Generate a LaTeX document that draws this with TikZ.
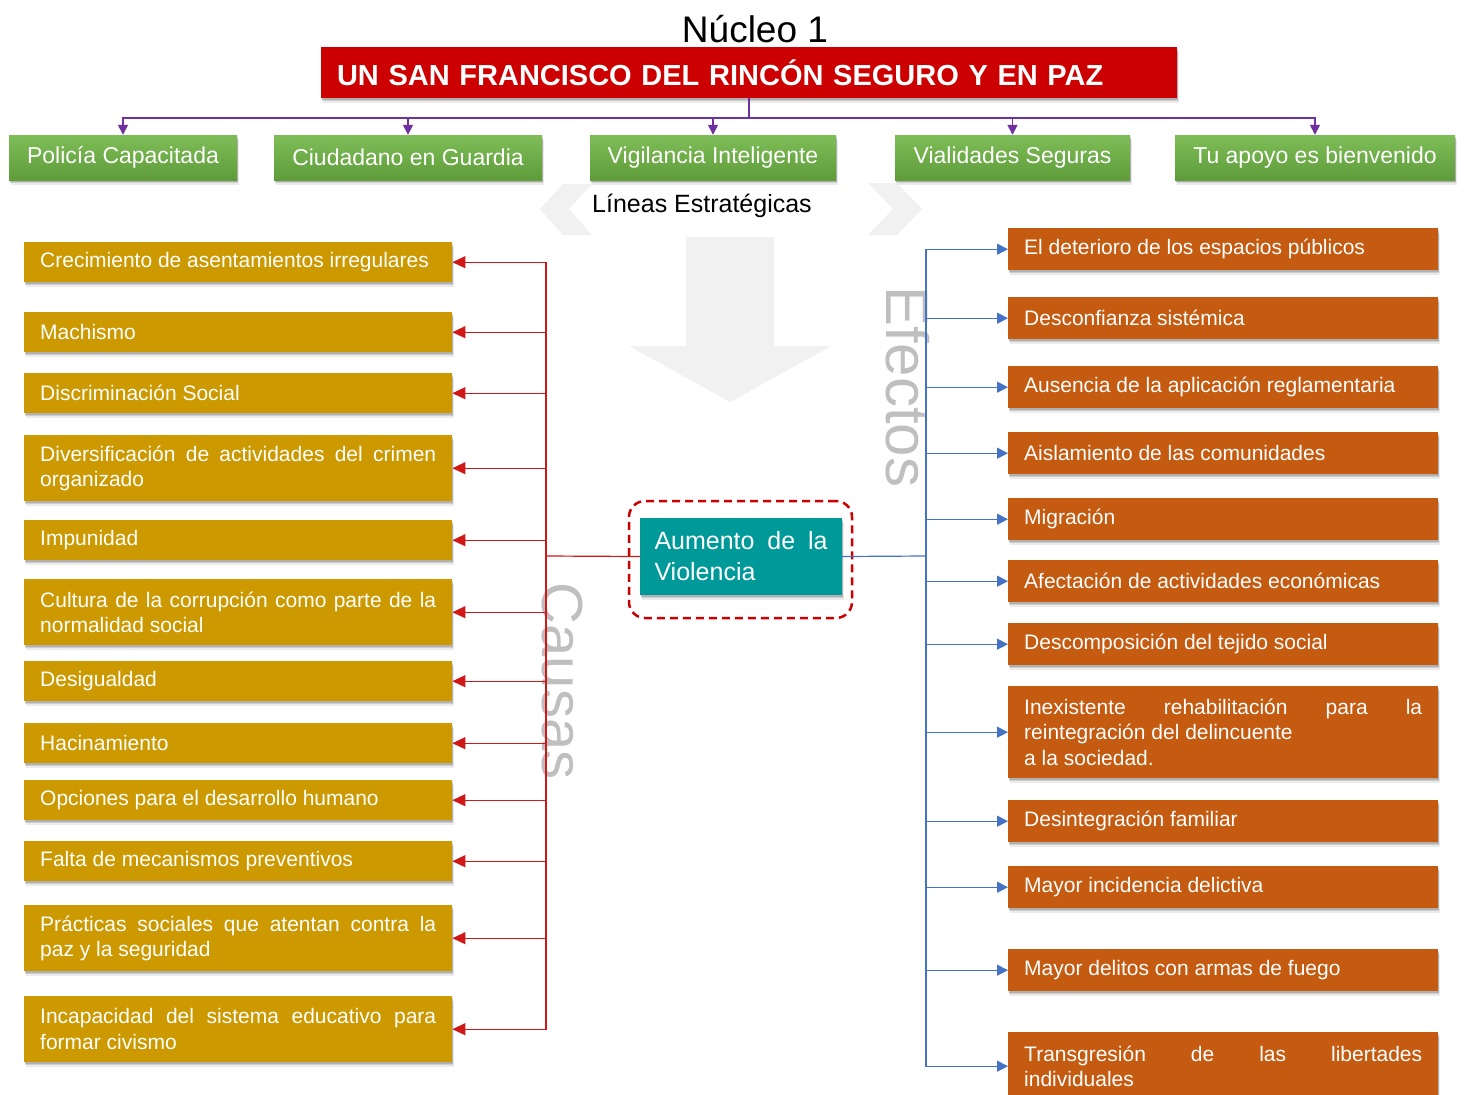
\documentclass[tikz,border=0pt]{standalone}
\usepackage{fontspec}
\setmainfont{Liberation Sans}
\usetikzlibrary{shadows,arrows.meta}
\definecolor{gold}{HTML}{CC9900}
\definecolor{rust}{HTML}{C55A11}
\definecolor{tealbox}{HTML}{009999}
\definecolor{titlered}{HTML}{CC0000}
\definecolor{purp}{HTML}{7030A0}
\definecolor{linered}{HTML}{D01818}
\definecolor{lineblue}{HTML}{4472C4}
\definecolor{greentop}{HTML}{7EBD57}
\definecolor{greenbot}{HTML}{5E9C3A}
\definecolor{faint}{HTML}{F1F1F1}
\definecolor{bigtext}{HTML}{BFBFBF}
\hyphenpenalty=10000
\exhyphenpenalty=10000
\begin{document}
\begin{tikzpicture}[x=1pt,y=-1pt,
  boxshadow/.style={
    drop shadow={shadow xshift=0.5pt,shadow yshift=-1.5pt,opacity=0.14,fill=black},
    drop shadow={shadow xshift=1pt,shadow yshift=-3pt,opacity=0.12,fill=black},
    drop shadow={shadow xshift=1.5pt,shadow yshift=-5pt,opacity=0.08,fill=black}},
  causebox/.style={fill=gold,text=white,anchor=north west,minimum width=428pt,text width=396pt,inner xsep=16pt,inner ysep=0pt,align=justify,font=\fontsize{21}{25.5}\selectfont,boxshadow},
  effectbox/.style={fill=rust,text=white,anchor=north west,minimum width=430pt,text width=398pt,inner xsep=16pt,inner ysep=0pt,align=justify,font=\fontsize{21}{25.5}\selectfont,boxshadow},
  greenbox/.style={top color=greentop,bottom color=greenbot,text=white,minimum height=45pt,inner xsep=0pt,inner ysep=0pt,font=\fontsize{23}{27}\selectfont,boxshadow},
  purparrow/.style={draw=purp,line width=1.5pt,-{Triangle[width=10pt,length=10pt]}},
  redarrow/.style={draw=linered,line width=1.2pt,-{Triangle[width=12pt,length=13pt]}},
  bluearrow/.style={draw=lineblue,line width=1.2pt,-{Triangle[width=11pt,length=11pt]}},
]
\useasboundingbox (0,0) rectangle (1465,1095);
\fill[white] (0,0) rectangle (1465,1095);

% faint background chevrons and arrow
\fill[faint] (540,209) -- (563,184) -- (592,184) -- (569,209) -- (592,235) -- (563,235) -- cycle;
\fill[faint] (868,183) -- (897,183) -- (922,209) -- (897,235) -- (868,235) -- (893,209) -- cycle;
\fill[faint] (686,237) -- (774,237) -- (774,346) -- (831,346) -- (730,402) -- (629,346) -- (686,346) -- cycle;

% big gray labels
\node[text=bigtext,font=\fontsize{60}{60}\selectfont,rotate=-90,inner sep=0pt] (efectos) at (908,387) {Efectos};
\node[text=bigtext,font=\fontsize{58}{58}\selectfont,rotate=-90,inner sep=0pt] (causas) at (562,681) {Causas};

% title
\node[font=\fontsize{37}{40}\selectfont,inner sep=0pt] (nucleo) at (755,29) {Núcleo 1};
\node[fill=titlered,text=white,minimum width=856pt,minimum height=51pt,text width=824pt,inner xsep=16pt,inner ysep=0pt,align=left,font=\bfseries\fontsize{29}{32}\selectfont,boxshadow] (title) at (749,72.5) {UN SAN FRANCISCO DEL RINCÓN SEGURO Y EN PAZ};

% strategic lines
\node[greenbox,minimum width=228pt] (g1) at (123,157.5) {Policía Capacitada};
\node[greenbox,minimum width=268pt] (g2) at (408,157.5) {Ciudadano en Guardia};
\node[greenbox,minimum width=246pt] (g3) at (713,157.5) {Vigilancia Inteligente};
\node[greenbox,minimum width=235pt] (g4) at (1012.5,157.5) {Vialidades Seguras};
\node[greenbox,minimum width=280pt] (g5) at (1315,157.5) {Tu apoyo es bienvenido};
\node[font=\fontsize{25}{28}\selectfont,inner sep=0pt] (lineas) at (702,206) {Líneas Estratégicas};

\coordinate (bus) at (749,118);
\draw[purp,line width=1.5pt] (title.south) -- (bus);
\foreach \g in {g1,g2,g3,g4,g5} \draw[purparrow] (bus) -| (\g.north);

% center
\node[draw=titlered,dashed,dash pattern=on 8pt off 5pt,line width=2.5pt,rounded corners=16pt,minimum width=223pt,minimum height=117pt] (frame) at (740.5,559.5) {};
\node[fill=tealbox,text=white,minimum width=202pt,minimum height=77pt,text width=173pt,inner xsep=14.5pt,inner ysep=0pt,align=justify,font=\fontsize{25}{31}\selectfont,boxshadow] (center) at (741,556.5) {Aumento de la\linebreak Violencia};

% causes
\node[causebox,minimum height=40pt] (l1) at (24,242) {Crecimiento de asentamientos irregulares};
\node[causebox,minimum height=40pt] (l2) at (24,312) {Machismo};
\node[causebox,minimum height=40pt] (l3) at (24,373) {Discriminación Social};
\node[causebox,minimum height=66pt] (l4) at (24,435) {Diversificación de actividades del crimen\linebreak organizado};
\node[causebox,minimum height=40pt] (l5) at (24,520) {Impunidad};
\node[causebox,minimum height=66pt] (l6) at (24,579) {Cultura de la corrupción como parte de la\linebreak normalidad social};
\node[causebox,minimum height=40pt] (l7) at (24,661) {Desigualdad};
\node[causebox,minimum height=40pt] (l8) at (24,723) {Hacinamiento};
\node[causebox,minimum height=40pt] (l9) at (24,780) {Opciones para el desarrollo humano};
\node[causebox,minimum height=40pt] (l10) at (24,841) {Falta de mecanismos preventivos};
\node[causebox,minimum height=66pt] (l11) at (24,905) {Prácticas sociales que atentan contra la\linebreak paz y la seguridad};
\node[causebox,minimum height=66pt] (l12) at (24,996) {Incapacidad del sistema educativo para\linebreak formar civismo};

% effects
\node[effectbox,minimum height=42pt] (r1) at (1008,228) {El deterioro de los espacios públicos};
\node[effectbox,minimum height=42pt] (r2) at (1008,297) {Desconfianza sistémica};
\node[effectbox,minimum height=42pt] (r3) at (1008,366) {Ausencia de la aplicación reglamentaria};
\node[effectbox,minimum height=42pt] (r4) at (1008,432) {Aislamiento de las comunidades};
\node[effectbox,minimum height=42pt] (r5) at (1008,498) {Migración};
\node[effectbox,minimum height=42pt] (r6) at (1008,560) {Afectación de actividades económicas};
\node[effectbox,minimum height=42pt] (r7) at (1008,623) {Descomposición del tejido social};
\node[effectbox,minimum height=92pt] (r8) at (1008,686) {Inexistente rehabilitación para la\linebreak reintegración del delincuente\\a la sociedad.};
\node[effectbox,minimum height=42pt] (r9) at (1008,800) {Desintegración familiar};
\node[effectbox,minimum height=42pt] (r10) at (1008,866) {Mayor incidencia delictiva};
\node[effectbox,minimum height=42pt] (r11) at (1008,949) {Mayor delitos con armas de fuego};
\node[effectbox,minimum height=68pt] (r12) at (1008,1032) {Transgresión de las libertades\linebreak individuales};

% cause connectors
\coordinate (cbus) at (546,556);
\draw[linered,line width=1.2pt] (center.west) -- (cbus);
\foreach \l in {l1,l2,l3,l4,l5,l6,l7,l8,l9,l10,l11,l12} \draw[redarrow] (cbus) |- (\l.east);

% effect connectors
\coordinate (ebus) at (926,556);
\draw[lineblue,line width=1.2pt] (center.east) -- (ebus);
\foreach \r in {r1,r2,r3,r4,r5,r6,r7,r8,r9,r10,r11,r12} \draw[bluearrow] (ebus) |- (\r.west);
\end{tikzpicture}
\end{document}
